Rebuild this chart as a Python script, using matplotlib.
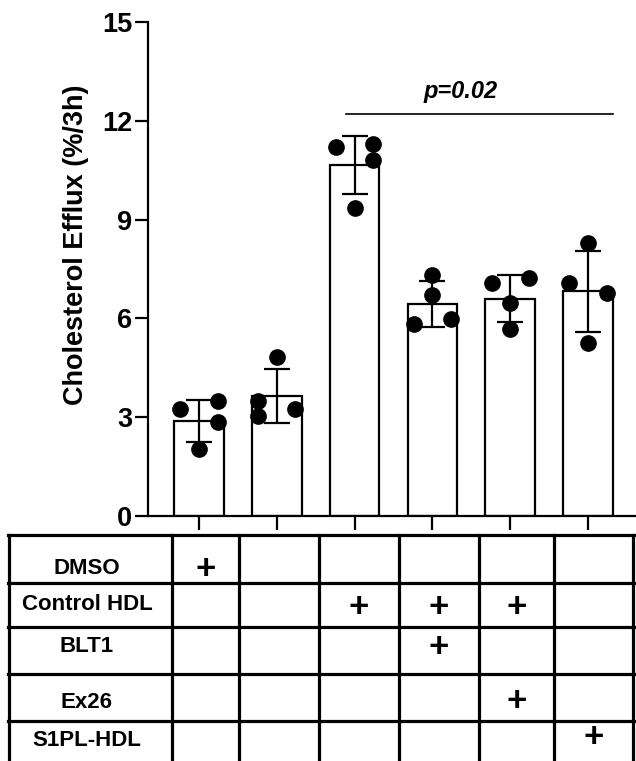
import matplotlib
matplotlib.use("Agg")
import matplotlib.pyplot as plt
import numpy as np

plt.rcParams['font.family'] = ['Liberation Sans', 'DejaVu Sans']

# ---- data ----
groups = ["G1", "G2", "G3", "G4", "G5", "G6"]
means = [2.89, 3.64, 10.66, 6.44, 6.60, 6.82]
sds = [0.64, 0.82, 0.89, 0.69, 0.71, 1.24]
points = [
    [3.26, 3.49, 2.84, 2.02],
    [3.49, 3.03, 3.26, 4.83],
    [11.19, 11.31, 10.81, 9.35],
    [7.33, 6.72, 5.82, 5.99],
    [7.07, 7.23, 6.46, 5.67],
    [8.28, 7.08, 6.77, 5.25],
]
jitter = [
    [-1, 1, 1, 0],
    [-1, -1, 1, 0],
    [-1, 1, 1, 0],
    [0, 0, -1, 1],
    [-1, 1, 0, 0],
    [0, -1, 1, 0],
]
yticks = [0, 3, 6, 9, 12, 15]
ylabel = "Cholesterol Efflux (%/3h)"
p_text = "p=0.02"
p_y = 12.2
p_from, p_to = 2, 5

treatments = ["DMSO", "Control HDL", "BLT1", "Ex26", "S1PL-HDL"]
matrix = [
    [1, 0, 0, 0, 0, 0],
    [0, 0, 1, 1, 1, 0],
    [0, 0, 0, 1, 0, 0],
    [0, 0, 0, 0, 1, 0],
    [0, 0, 0, 0, 0, 1],
]

# ---- figure ----
W, H = 636, 761
fig = plt.figure(figsize=(W / 100, H / 100), dpi=100)

ax_left, ax_right, ax_bot, ax_top = 148, 636, 516, 22
ax = fig.add_axes([ax_left / W, 1 - ax_bot / H, (ax_right - ax_left) / W, (ax_bot - ax_top) / H])

x = np.arange(len(groups))
spacing = 77.8
ax.set_xlim(-(199 - ax_left) / spacing, (ax_right - 199) / spacing)
ax.set_ylim(0, 15)

ax.bar(x, means, width=0.64, color="white", edgecolor="black", linewidth=1.6, zorder=2)
ax.errorbar(x, means, yerr=sds, fmt="none", ecolor="black", elinewidth=1.6,
            capsize=9.5, capthick=1.6, zorder=3)
for i, (pts, jit) in enumerate(zip(points, jitter)):
    xs = i + np.array(jit) * 0.24
    ax.plot(xs, pts, "o", color="black", markersize=11, zorder=4, clip_on=False)

for s in ["top", "right"]:
    ax.spines[s].set_visible(False)
ax.spines["left"].set_linewidth(1.6)
ax.spines["bottom"].set_linewidth(1.6)
ax.set_yticks(yticks)
ax.set_yticklabels([str(t) for t in yticks], fontsize=19.5, fontweight="bold")
ax.tick_params(axis="y", length=9.5, width=1.6, pad=2)
ax.set_xticks(x)
ax.set_xticklabels([])
ax.tick_params(axis="x", length=10, width=1.6)
ax.set_ylabel(ylabel, fontsize=19.5, fontweight="bold")
ax.yaxis.set_label_coords(-(148 - 89) / 488, (516 - 245) / 494)

# significance line
ax.plot([p_from - 0.11, p_to + 0.32], [p_y, p_y], color="black", linewidth=1.2)
ax.text((p_from + p_to) / 2 - 0.14, p_y + 0.35, p_text, ha="center", va="bottom",
        fontsize=17, fontweight="bold", fontstyle="italic")

# ---- table ----
tab = fig.add_axes([0, 0, 1, 1])
tab.set_xlim(0, W)
tab.set_ylim(H, 0)
tab.axis("off")
col_edges = [9, 172, 239, 319, 399, 479, 554, 633]
row_edges = [535, 583, 627, 674, 721, 765]
lw = 2.3
for cx in col_edges:
    tab.plot([cx, cx], [row_edges[0], row_edges[-1]], color="black", linewidth=lw)
for ry in row_edges:
    tab.plot([col_edges[0] - 1, col_edges[-1] + 1], [ry, ry], color="black", linewidth=lw)

label_y = [569, 605, 647, 702, 741]
plus_y = [569, 607, 647, 701, 738]
for r, name in enumerate(treatments):
    tab.text(87, label_y[r], name, ha="center", va="center", fontsize=16, fontweight="bold")
    for c, v in enumerate(matrix[r]):
        if v:
            cx = (col_edges[c + 1] + col_edges[c + 2]) / 2
            tab.text(cx, plus_y[r], "+", ha="center", va="center", fontsize=25, fontweight="bold")

fig.savefig("out.png", dpi=100)
